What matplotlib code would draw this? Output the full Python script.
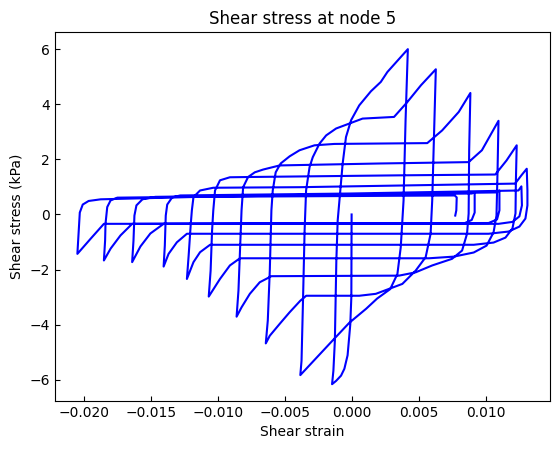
import matplotlib
matplotlib.use("Agg")
import matplotlib.pyplot as plt
import numpy as np

# branches: "down" heads toward a negative peak, "up" toward a positive one
down0_strain = [0.0, -0.00002, -0.0001, -0.0003, -0.00054, -0.00079, -0.00116, -0.00146]
down0_stress = [0.0, -3.0, -4.0, -5.11, -5.6, -5.85, -6.04, -6.16]

up1_strain = [-0.00146, -0.00136, -0.00125, -0.00114, -0.00104, -0.00091, -0.00067, -0.00042,
              -0.00004, 0.00057, 0.00144, 0.00218, 0.00267, 0.0042]
up1_stress = [-6.16, -5.67, -4.58, -1.67, -0.22, 0.51, 1.84, 2.81, 3.42, 3.96, 4.47, 4.81, 5.17, 6.0]

down1_strain = [0.0042, 0.00403, 0.00388, 0.00367, 0.00342, 0.00288, 0.00191, 0.00109,
                -0.00017, -0.00143, -0.00262, -0.00383]
down1_stress = [6.0, 3.42, 0.51, -1.19, -2.16, -2.71, -3.05, -3.42, -3.93, -4.58, -5.2, -5.83]

up2_strain = [-0.00383, -0.00374, -0.00363, -0.00351, -0.0034, -0.00314, -0.0029, -0.0024, -0.0019,
              -0.00116, -0.00017, 0.00082, 0.00206, 0.00317, 0.00416, 0.00518, 0.00629]
up2_stress = [-5.83, -5.31, -3.13, -0.58, 0.87, 1.72, 2.08, 2.57, 2.87, 3.12, 3.3, 3.48, 3.51,
              3.54, 4.08, 4.69, 5.27]

down2_strain = [0.00629, 0.00614, 0.00602, 0.0059, 0.00553, 0.00478, 0.00379, 0.0028, 0.00181,
                0.00057, -0.00339, -0.00383, -0.00463, -0.00537, -0.00611, -0.00641]
down2_stress = [5.27, 2.69, 0.51, -0.7, -1.55, -2.04, -2.52, -2.7, -2.88, -2.95, -2.95, -3.13,
                -3.55, -3.97, -4.4, -4.68]

up3_strain = [-0.00641, -0.00626, -0.00611, -0.00599, -0.00589, -0.00567, -0.0053, -0.00463,
              -0.00389, -0.00277, -0.00129, 0.00565, 0.00676, 0.008, 0.00887]
up3_stress = [-4.68, -3.85, -2.04, 0.15, 0.87, 1.53, 1.85, 2.11, 2.33, 2.51, 2.56, 2.59, 3.05,
              3.72, 4.41]

down3_strain = [0.00887, 0.00878, 0.00874, 0.00862, 0.00825, 0.0075, 0.00602, 0.00478, 0.00354,
                -0.00599, -0.00686, -0.0076, -0.00822, -0.00859]
down3_stress = [4.41, 2.33, 0.03, -0.7, -1.31, -1.61, -1.85, -2.1, -2.22, -2.24, -2.46, -2.88,
                -3.37, -3.71]

up4_strain = [-0.00859, -0.00845, -0.00831, -0.00822, -0.0081, -0.00773, -0.00723, -0.00661,
              -0.00537, 0.00206, 0.00874, 0.00973, 0.01097]
up4_stress = [-3.71, -2.76, -0.95, 0.15, 0.99, 1.36, 1.53, 1.63, 1.78, 1.85, 1.9, 2.33, 3.4]

down4_strain = [0.01097, 0.0109, 0.01082, 0.0106, 0.01008, 0.00912, 0.00763, 0.00577, -0.00834,
                -0.00909, -0.00983, -0.01067]
down4_stress = [3.4, 1.6, -0.04, -0.65, -1.13, -1.38, -1.53, -1.59, -1.59, -1.85, -2.34, -2.98]

up5_strain = [-0.01067, -0.01053, -0.01042, -0.01033, -0.0102, -0.00983, -0.00909, -0.0076,
              0.00354, 0.01073, 0.01157, 0.01233]
up5_stress = [-2.98, -2.04, -0.58, 0.15, 0.87, 1.24, 1.35, 1.36, 1.42, 1.45, 1.96, 2.51]

down5_strain = [0.01233, 0.01227, 0.01224, 0.01201, 0.01149, 0.0106, 0.00912, -0.01057, -0.01132,
                -0.01181, -0.0123]
down5_stress = [2.51, 1.24, 0.04, -0.51, -0.84, -1.02, -1.1, -1.1, -1.37, -1.73, -2.34]

up6_strain = [-0.0123, -0.01217, -0.01202, -0.01193, -0.01181, -0.01132, -0.01033, -0.00389,
              0.01221, 0.01268, 0.01308]
up6_stress = [-2.34, -1.49, -0.4, 0.15, 0.63, 0.87, 0.97, 0.99, 1.12, 1.42, 1.66]

down6_strain = [0.01308, 0.01313, 0.01313, 0.01298, 0.01253, 0.01172, 0.01023, -0.0123, -0.01305,
                -0.01367, -0.01404]
down6_stress = [1.66, 0.87, 0.33, -0.15, -0.44, -0.62, -0.7, -0.7, -1.01, -1.43, -1.89]

up7_strain = [-0.01404, -0.01395, -0.01388, -0.01377, -0.0134, -0.0128, -0.00017, 0.01246, 0.01268]
up7_stress = [-1.89, -1.13, -0.04, 0.36, 0.62, 0.69, 0.76, 0.87, 1.02]

down7_strain = [0.01268, 0.01272, 0.01253, 0.01201, 0.01097, -0.01404, -0.01503, -0.01577, -0.01639]
down7_stress = [1.02, 0.33, -0.07, -0.27, -0.34, -0.34, -0.69, -1.16, -1.73]

up8_strain = [-0.01639, -0.01629, -0.01622, -0.01607, -0.01562, -0.01466, -0.00017, 0.01082, 0.01104]
up8_stress = [-1.73, -0.95, -0.04, 0.33, 0.55, 0.64, 0.73, 0.8, 0.87]

down8_strain = [0.01104, 0.01104, 0.01086, 0.01023, -0.01639, -0.01726, -0.018, -0.0185]
down8_stress = [0.87, 0.15, -0.18, -0.31, -0.34, -0.76, -1.24, -1.67]

up9_strain = [-0.0185, -0.01841, -0.01838, -0.01825, -0.018, -0.0175, -0.00389, 0.00897, 0.00919]
up9_stress = [-1.67, -0.95, -0.34, 0.27, 0.51, 0.61, 0.69, 0.76, 0.8]

down9_strain = [0.00919, 0.00919, 0.00897, 0.00837, -0.0185, -0.01949, -0.02048]
down9_stress = [0.8, 0.07, -0.2, -0.33, -0.34, -0.88, -1.43]

up10_strain = [-0.02048, -0.02038, -0.0203, -0.02008, -0.01964, -0.01874, -0.01132, 0.0077,
               0.00785, 0.00782, 0.00774]
up10_stress = [-1.43, -0.58, 0.07, 0.36, 0.49, 0.55, 0.64, 0.69, 0.62, 0.15, -0.04]

strain = np.concatenate([down0_strain, up1_strain, down1_strain, up2_strain, down2_strain,
                         up3_strain, down3_strain, up4_strain, down4_strain, up5_strain,
                         down5_strain, up6_strain, down6_strain, up7_strain, down7_strain,
                         up8_strain, down8_strain, up9_strain, down9_strain, up10_strain])
stress = np.concatenate([down0_stress, up1_stress, down1_stress, up2_stress, down2_stress,
                         up3_stress, down3_stress, up4_stress, down4_stress, up5_stress,
                         down5_stress, up6_stress, down6_stress, up7_stress, down7_stress,
                         up8_stress, down8_stress, up9_stress, down9_stress, up10_stress])

fig = plt.figure(figsize=(5.6, 4.5), dpi=100)
ax = fig.add_subplot(111)
fig.subplots_adjust(left=0.098, right=0.982, top=0.928, bottom=0.109)
ax.plot(strain, stress, color="blue", linewidth=1.5)
ax.set_title("Shear stress at node 5")
ax.set_xlabel("Shear strain")
ax.set_ylabel("Shear stress (kPa)")
ax.tick_params(direction="in")
fig.savefig("out.png", dpi=100)
